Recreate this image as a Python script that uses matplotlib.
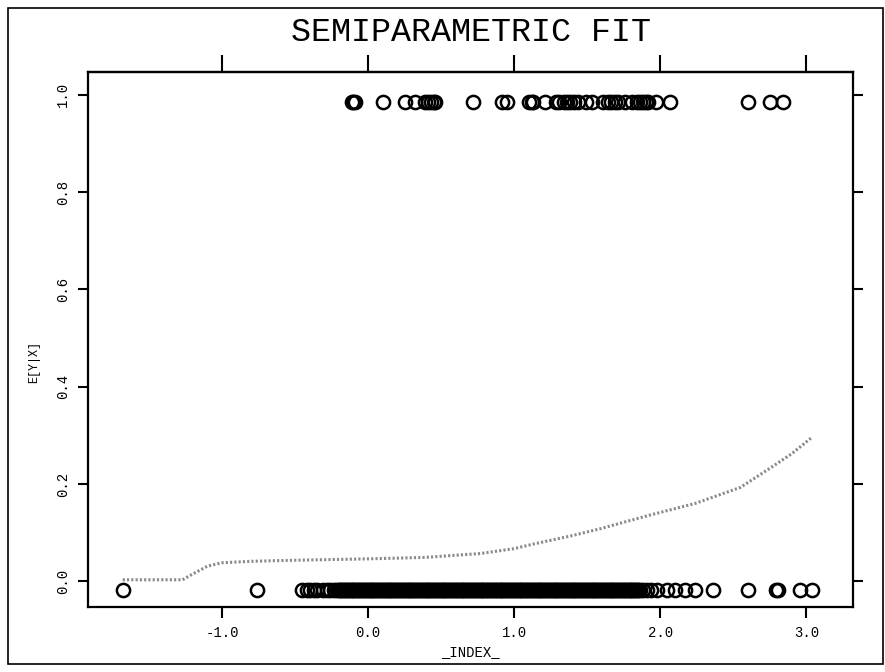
import matplotlib.pyplot as plt
from matplotlib.patches import Rectangle

plt.rcParams['font.family'] = ['Liberation Mono', 'DejaVu Sans Mono']

# observations with Y = 1 (upper row)
x_one = [-0.11, -0.10, -0.09, 0.10, 0.25, 0.32, 0.39, 0.41, 0.43, 0.45, 0.46,
         0.72, 0.92, 0.95, 1.10, 1.12, 1.13, 1.21, 1.29, 1.31, 1.34, 1.36, 1.38,
         1.41, 1.44, 1.49, 1.53, 1.61, 1.64, 1.66, 1.69, 1.71, 1.76, 1.81, 1.84,
         1.86, 1.88, 1.90, 1.92, 1.97, 2.07, 2.60, 2.75, 2.84]
y_one = [0.985] * len(x_one)

# observations with Y = 0 (lower row), sparse tails
x_zero = [-1.68, -0.76,
          -0.45, -0.42, -0.40, -0.37, -0.35, -0.31, -0.28, -0.26, -0.23, -0.21,
          1.88, 1.91, 1.94,
          1.98, 2.05, 2.10, 2.17, 2.24, 2.36, 2.60, 2.79, 2.81, 2.96, 3.04]

# the dense middle of the lower row
x_zero_mid = [-0.20, -0.19, -0.18, -0.17, -0.16, -0.15, -0.14, -0.13, -0.12, -0.11,
              -0.10, -0.09, -0.08, -0.07, -0.06, -0.05, -0.04, -0.03, -0.02, -0.01,
              0.00, 0.01, 0.02, 0.03, 0.04, 0.05, 0.06, 0.07, 0.08, 0.09,
              0.10, 0.11, 0.12, 0.13, 0.14, 0.15, 0.16, 0.17, 0.18, 0.19,
              0.20, 0.21, 0.22, 0.23, 0.24, 0.25, 0.26, 0.27, 0.28, 0.29,
              0.30, 0.31, 0.32, 0.33, 0.34, 0.35, 0.36, 0.37, 0.38, 0.39,
              0.40, 0.41, 0.42, 0.43, 0.44, 0.45, 0.46, 0.47, 0.48, 0.49,
              0.50, 0.51, 0.52, 0.53, 0.54, 0.55, 0.56, 0.57, 0.58, 0.59,
              0.60, 0.61, 0.62, 0.63, 0.64, 0.65, 0.66, 0.67, 0.68, 0.69,
              0.70, 0.71, 0.72, 0.73, 0.74, 0.75, 0.76, 0.77, 0.78, 0.79,
              0.80, 0.81, 0.82, 0.83, 0.84, 0.85, 0.86, 0.87, 0.88, 0.89,
              0.90, 0.91, 0.92, 0.93, 0.94, 0.95, 0.96, 0.97, 0.98, 0.99,
              1.00, 1.01, 1.02, 1.03, 1.04, 1.05, 1.06, 1.07, 1.08, 1.09,
              1.10, 1.11, 1.12, 1.13, 1.14, 1.15, 1.16, 1.17, 1.18, 1.19,
              1.20, 1.21, 1.22, 1.23, 1.24, 1.25, 1.26, 1.27, 1.28, 1.29,
              1.30, 1.31, 1.32, 1.33, 1.34, 1.35, 1.36, 1.37, 1.38, 1.39,
              1.40, 1.41, 1.42, 1.43, 1.44, 1.45, 1.46, 1.47, 1.48, 1.49,
              1.50, 1.51, 1.52, 1.53, 1.54, 1.55, 1.56, 1.57, 1.58, 1.59,
              1.60, 1.61, 1.62, 1.63, 1.64, 1.65, 1.66, 1.67, 1.68, 1.69,
              1.70, 1.71, 1.72, 1.73, 1.74, 1.75, 1.76, 1.77, 1.78, 1.79,
              1.80, 1.81, 1.82, 1.83, 1.84, 1.85, 1.86]

# semiparametric fit E[Y|X]
fit_x = [-1.68, -1.27, -1.20, -1.10, -1.00, -0.80, -0.53, 0.00, 0.39, 0.77,
         1.00, 1.14, 1.40, 1.59, 1.93, 2.24, 2.55, 2.75, 2.90, 3.04]
fit_y = [0.003, 0.003, 0.015, 0.031, 0.038, 0.041, 0.043, 0.046, 0.049, 0.057,
         0.067, 0.077, 0.094, 0.108, 0.136, 0.160, 0.193, 0.232, 0.262, 0.296]

fig = plt.figure(figsize=(8.85, 6.72), dpi=100)
ax = fig.add_axes([0.0994, 0.0967, 0.8644, 0.7962])

ax.plot(fit_x, fit_y, color='#8a8a8a', lw=2.2, linestyle=(0, (0.7, 0.7)), zorder=1)
circ = dict(mfc='none', mec='black', mew=1.8, ms=9.5, zorder=2, ls='none', marker='o')
ax.plot(x_one, y_one, **circ)
ax.plot(x_zero, [-0.018] * len(x_zero), **circ)
ax.plot(x_zero_mid, [-0.018] * len(x_zero_mid), **circ)

ax.set_xlim(-1.918, 3.32)
ax.set_ylim(-0.053, 1.047)
ax.set_xticks([-1, 0, 1, 2, 3])
ax.set_xticklabels(['-1.0', '0.0', '1.0', '2.0', '3.0'])
ax.set_yticks([0, 0.2, 0.4, 0.6, 0.8, 1.0])
ax.set_yticklabels(['0.0', '0.2', '0.4', '0.6', '0.8', '1.0'], rotation=90, va='center')

for s in ax.spines.values():
    s.set_linewidth(1.6)
ax.tick_params(axis='x', direction='out', length=8, width=1.5, labelsize=10, pad=6)
ax.tick_params(axis='y', direction='out', length=7, width=1.5, labelsize=10, pad=6,
               right=True)

# top ticks are longer in the original
top = ax.secondary_xaxis('top')
top.set_xticks([-1, 0, 1, 2, 3])
top.tick_params(direction='out', length=12, width=1.5, labeltop=False)
top.spines['top'].set_linewidth(1.6)

ax.set_xlabel('_INDEX_', fontsize=10, labelpad=3)
ax.set_ylabel('E[Y|X]', fontsize=8.5)
ax.yaxis.set_label_coords(-0.062, 0.458)
fig.text(0.532, 0.952, 'SEMIPARAMETRIC FIT', ha='center', va='center', fontsize=24)

# outer frame
fig.patches.append(Rectangle((0.009, 0.012), 0.989, 0.976, transform=fig.transFigure,
                             fill=False, edgecolor='black', lw=1.2))

plt.savefig('out.png', dpi=100)
